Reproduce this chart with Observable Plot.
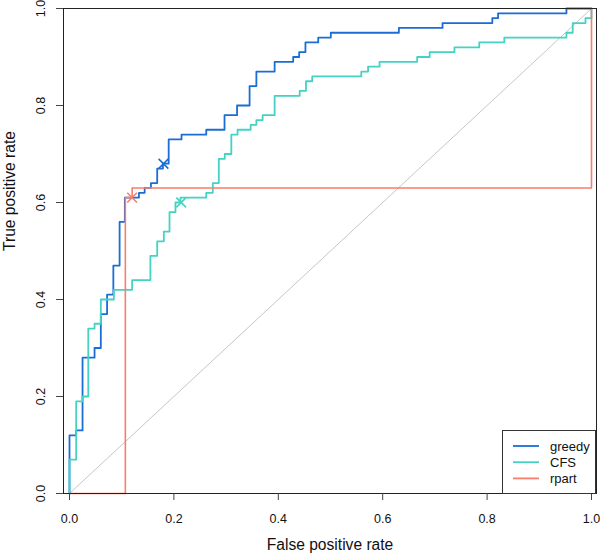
<!DOCTYPE html>
<html><head><meta charset="utf-8">
<script src="https://cdn.jsdelivr.net/npm/d3@7"></script>
<script src="https://cdn.jsdelivr.net/npm/@observablehq/plot@0.6"></script>
<style>
body{margin:0;background:#fff}
#chart svg{font-family:"Liberation Sans",Arial,Helvetica,sans-serif}
</style>
</head><body><div id="chart"></div>
<script>
// ROC staircase vertices (FPR where the curve rises, TPR reached)
const greedyFPR = [0, 0, 0.0128, 0.025, 0.048, 0.06, 0.072, 0.084, 0.096, 0.106, 0.133, 0.144, 0.156, 0.168, 0.179, 0.19, 0.2146, 0.262, 0.297, 0.321, 0.345, 0.358, 0.393, 0.4285, 0.44, 0.452, 0.4765, 0.5006, 0.631, 0.7146, 0.81, 0.821, 0.952, 1.0];
const greedyTPR = [0, 0.12, 0.13, 0.28, 0.30, 0.37, 0.41, 0.47, 0.56, 0.61, 0.62, 0.63, 0.64, 0.67, 0.68, 0.73, 0.74, 0.75, 0.78, 0.80, 0.84, 0.87, 0.89, 0.90, 0.91, 0.93, 0.94, 0.95, 0.96, 0.97, 0.98, 0.99, 1.0, 1.0];

const cfsFPR = [0, 0, 0.0128, 0.025, 0.036, 0.048, 0.06, 0.085, 0.12, 0.155, 0.168, 0.1807, 0.1916, 0.203, 0.2126, 0.262, 0.2745, 0.286, 0.2975, 0.31, 0.322, 0.347, 0.358, 0.37, 0.393, 0.441, 0.453, 0.465, 0.559, 0.572, 0.594, 0.666, 0.690, 0.7375, 0.785, 0.833, 0.952, 0.964, 0.9885, 1.0];
const cfsTPR = [0, 0.07, 0.19, 0.20, 0.34, 0.35, 0.40, 0.42, 0.44, 0.49, 0.52, 0.54, 0.58, 0.60, 0.61, 0.62, 0.64, 0.69, 0.70, 0.74, 0.75, 0.76, 0.77, 0.78, 0.82, 0.83, 0.85, 0.86, 0.87, 0.88, 0.89, 0.90, 0.91, 0.92, 0.93, 0.94, 0.95, 0.97, 0.98, 1.0];

const rpartFPR = [0, 0.107, 0.12, 1.0];
const rpartTPR = [0, 0.61, 0.63, 1.0];

// cutoff markers
const markerSeries = ["greedy", "CFS", "rpart"];
const markerFPR = [0.18, 0.214, 0.12];
const markerTPR = [0.68, 0.60, 0.61];

const diagFPR = [0, 1];
const diagTPR = [0, 1];

const seriesNames = ["greedy", "CFS", "rpart"];
const seriesColors = ["#1b6dd6", "#44d2c3", "#f77d6d"];

const xTicks = [0, 0.2, 0.4, 0.6, 0.8, 1.0];
const yTicks = [0, 0.2, 0.4, 0.6, 0.8, 1.0];
const xLabel = "False positive rate";
const yLabel = "True positive rate";

const idx = a => a.map((_, i) => i);
const colorOf = n => seriesColors[seriesNames.indexOf(n)];

const svg = Plot.plot({
  width: 600,
  height: 553,
  marginLeft: 63,
  marginRight: 4,
  marginTop: 8,
  marginBottom: 60,
  style: {fontFamily: "Liberation Sans, Arial, sans-serif", fontSize: "12.5px", background: "#fff", overflow: "visible"},
  x: {domain: [-0.01149, 1.00958], axis: null},
  y: {domain: [0, 1], axis: null},
  marks: [
    Plot.line(idx(diagFPR), {x: i => diagFPR[i], y: i => diagTPR[i], stroke: "#c6c6c6", strokeWidth: 1}),
    Plot.line(idx(greedyFPR), {x: i => greedyFPR[i], y: i => greedyTPR[i], curve: "step-after", stroke: colorOf("greedy"), strokeWidth: 1.8}),
    Plot.line(idx(cfsFPR), {x: i => cfsFPR[i], y: i => cfsTPR[i], curve: "step-after", stroke: colorOf("CFS"), strokeWidth: 1.8}),
    Plot.line(idx(rpartFPR), {x: i => rpartFPR[i], y: i => rpartTPR[i], curve: "step-after", stroke: colorOf("rpart"), strokeWidth: 1.6}),
    Plot.dot(idx(markerFPR), {x: i => markerFPR[i], y: i => markerTPR[i], symbol: "times", r: 4.5, strokeWidth: 1.6, stroke: i => colorOf(markerSeries[i])}),
    Plot.frame({stroke: "#222"}),
    Plot.axisX({ticks: xTicks, tickSize: 7, tickPadding: 13.5, tickFormat: d3.format(".1f"), stroke: "#444", fill: "#111", fontSize: 12.5, label: null}),
    Plot.axisY({ticks: yTicks, tickSize: 7, tickFormat: () => "", stroke: "#444", label: null}),
    Plot.text(yTicks, {y: d => d, text: d => d3.format(".1f")(d), frameAnchor: "left", dx: -18.5, rotate: -90, lineAnchor: "bottom", textAnchor: "middle", fontSize: 12.5, fill: "#111"}),
    Plot.text([xLabel], {frameAnchor: "bottom", dy: 56, lineAnchor: "bottom", fontSize: 15.6, fill: "#111"}),
    Plot.text([yLabel], {frameAnchor: "left", dx: -48.5, rotate: -90, lineAnchor: "bottom", fontSize: 15.6, fill: "#111"})
  ]
});

// legend box (bottom-right, inside the plot area)
const lg = d3.select(svg).append("g").attr("font-size", 13).attr("text-anchor", "start");
lg.append("rect").attr("x", 502.5).attr("y", 430.5).attr("width", 93).attr("height", 63)
  .attr("fill", "#fff").attr("stroke", "#333");
seriesNames.forEach((n, i) => {
  const y = 446 + i * 16.2;
  lg.append("line").attr("x1", 513).attr("x2", 539).attr("y1", y).attr("y2", y)
    .attr("stroke", seriesColors[i]).attr("stroke-width", 1.8);
  lg.append("text").attr("x", 550).attr("y", y).attr("dy", "0.35em")
    .attr("text-anchor", "start").attr("fill", "#111").text(n);
});

document.getElementById("chart").append(svg);
</script>
</body></html>
